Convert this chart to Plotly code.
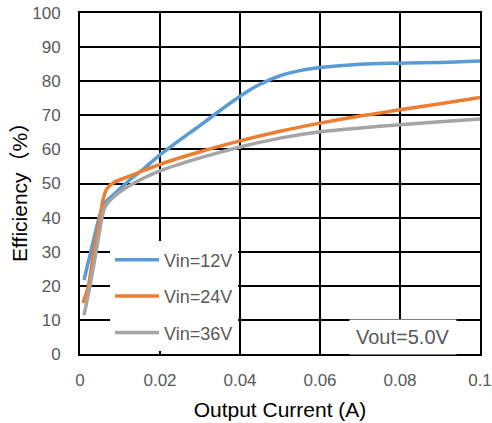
import plotly.graph_objects as go

# Output current (A) and efficiency (%)
i_12 = [0.001, 0.0028, 0.0048, 0.006, 0.008, 0.012, 0.016, 0.02, 0.025, 0.03, 0.035, 0.04, 0.045, 0.05, 0.055, 0.06, 0.07, 0.08, 0.09, 0.1]
eff_12 = [21.7, 30.5, 40.0, 44.0, 46.3, 50.6, 54.4, 58.4, 62.8, 67.0, 71.4, 75.6, 79.1, 81.6, 83.1, 84.0, 85.0, 85.3, 85.5, 85.9]

i_24 = [0.00075, 0.0021, 0.0035, 0.005, 0.0058, 0.0068, 0.0085, 0.012, 0.02, 0.03, 0.04, 0.05, 0.06, 0.07, 0.08, 0.09, 0.1]
eff_24 = [15.0, 20.0, 30.5, 40.0, 45.5, 48.6, 50.3, 52.0, 55.6, 59.3, 62.5, 65.3, 67.7, 69.8, 71.6, 73.4, 75.2]

i_36 = [0.001, 0.0025, 0.0041, 0.0055, 0.0062, 0.0079, 0.012, 0.02, 0.03, 0.04, 0.05, 0.06, 0.07, 0.08, 0.09, 0.1]
eff_36 = [11.4, 20.0, 30.5, 40.0, 43.0, 45.5, 49.1, 53.7, 57.5, 60.7, 63.3, 65.2, 66.3, 67.2, 68.1, 68.9]

series_names = ["Vin=12V", "Vin=24V", "Vin=36V"]
series_colors = ["#5B9BD5", "#ED7D31", "#A5A5A5"]

x_ticks = [0, 0.02, 0.04, 0.06, 0.08, 0.1]
x_tick_text = ["0", "0.02", "0.04", "0.06", "0.08", "0.1"]
y_ticks = [0, 10, 20, 30, 40, 50, 60, 70, 80, 90, 100]

fig = go.Figure()
for xs, ys, name, color in zip([i_12, i_24, i_36], [eff_12, eff_24, eff_36], series_names, series_colors):
    fig.add_trace(go.Scatter(
        x=xs, y=ys, name=name, mode="lines",
        line=dict(color=color, width=3.5, shape="spline", smoothing=0.8),
        legendgroup=name,
    ))

tick_font = dict(family="Liberation Sans, Arial, sans-serif", size=17, color="#595959")

fig.update_layout(
    width=492, height=423,
    margin=dict(l=80, r=12, t=13, b=69),
    paper_bgcolor="white", plot_bgcolor="white",
    showlegend=True,
    legend=dict(
        x=0.075, y=0.33, xanchor="left", yanchor="top",
        bgcolor="white", borderwidth=0,
        font=dict(family="Liberation Sans, Arial, sans-serif", size=18, color="#595959"),
        traceorder="grouped", tracegroupgap=10,
        itemwidth=44,
    ),
    annotations=[
        dict(
            x=0.0808, y=5.0, xref="x", yref="y",
            text="Vout=5.0V", showarrow=False,
            font=dict(family="Liberation Sans, Arial, sans-serif", size=20, color="#595959"),
            bgcolor="white", borderpad=6,
        ),
        dict(
            x=-0.15, y=0.49, xref="paper", yref="paper",
            xanchor="center", yanchor="middle", textangle=-90,
            text="Efficiency（%）", showarrow=False,
            font=dict(family="Liberation Sans, Arial, 'Noto Sans CJK SC', sans-serif", size=21, color="#000000"),
        ),
    ],
)

fig.update_xaxes(
    range=[0, 0.1], tickvals=x_ticks, ticktext=x_tick_text,
    showgrid=True, gridcolor="black", gridwidth=1.5,
    showline=True, linecolor="black", linewidth=2, mirror=True,
    zeroline=False, ticks="", ticklabelstandoff=10, automargin=False,
    ticklabeloverflow="allow",
    tickfont=tick_font,
    title=dict(text="Output Current (A)", font=dict(family="Liberation Sans, Arial, sans-serif", size=21, color="#000000"), standoff=13),
)
fig.update_yaxes(
    range=[0, 100], tickvals=y_ticks,
    showgrid=True, gridcolor="black", gridwidth=1.5,
    showline=True, linecolor="black", linewidth=2, mirror=True,
    zeroline=False, ticks="", ticklabelstandoff=14, automargin=False,
    ticklabeloverflow="allow",
    tickfont=tick_font,
)

fig.write_html("out.html", config={"displayModeBar": False},
               post_script="document.body.style.margin='0px';")
